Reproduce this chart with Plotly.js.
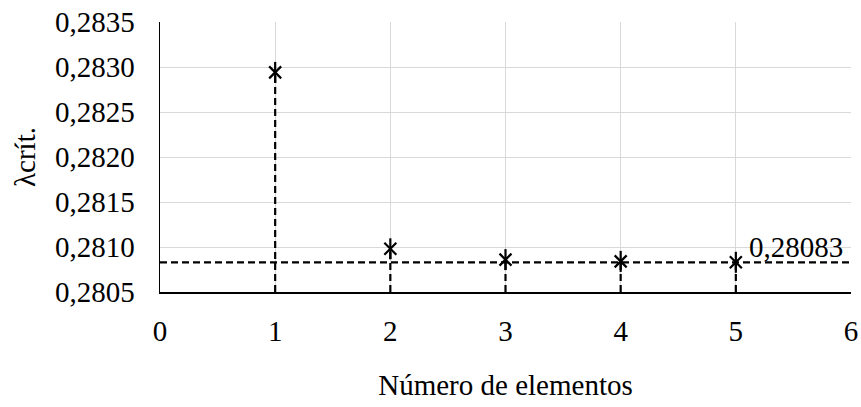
<!DOCTYPE html>
<html>
<head>
<meta charset="utf-8">
<script src="https://cdn.plot.ly/plotly-3.0.1.min.js"></script>
<style>
  html, body { margin: 0; padding: 0; background: #fff; }
  #chart { width: 861px; height: 407px; }
</style>
</head>
<body>
<div id="chart"></div>
<script>
// Critical load factor vs. number of elements
const elements = [1, 2, 3, 4, 5];
const lambdaCrit = [0.28294, 0.28098, 0.28086, 0.28084, 0.28083];
const converged = 0.28083;
const xTicks = [0, 1, 2, 3, 4, 5, 6];
const yTicks = [0.2805, 0.2810, 0.2815, 0.2820, 0.2825, 0.2830, 0.2835];

const yMin = yTicks[0];
const font = 'Liberation Serif, Times New Roman, serif';
const fs = 29;

// vertical drop lines from each point down to the axis
const dropX = [], dropY = [];
elements.forEach((x, i) => {
  dropX.push(x, x, null);
  dropY.push(yMin, lambdaCrit[i], null);
});

const traces = [
  {
    x: dropX, y: dropY, mode: 'lines', cliponaxis: false,
    line: { color: '#000', width: 2.2, dash: '7px,4px' },
    hoverinfo: 'skip', showlegend: false
  },
  {
    x: [xTicks[0], xTicks[xTicks.length - 1]], y: [converged, converged],
    mode: 'lines',
    line: { color: '#000', width: 2.2, dash: '7px,4px' },
    hoverinfo: 'skip', showlegend: false
  },
  // six-armed star marker: an "x" plus a vertical bar
  {
    x: elements, y: lambdaCrit, mode: 'markers',
    marker: { symbol: 'x-thin-open', size: 12, color: '#000', line: { color: '#000', width: 2.2 } },
    showlegend: false
  },
  {
    x: elements, y: lambdaCrit, mode: 'markers',
    marker: { symbol: 'line-ns-open', size: 15, color: '#000', line: { color: '#000', width: 2.2 } },
    showlegend: false
  }
];

const layout = {
  width: 861, height: 407,
  margin: { l: 159.5, r: 10, t: 21.5, b: 115 },
  paper_bgcolor: '#fff', plot_bgcolor: '#fff',
  separators: ',.',
  font: { family: font, size: fs, color: '#000' },
  showlegend: false,
  hovermode: false,
  xaxis: {
    range: [xTicks[0], xTicks[xTicks.length - 1]],
    tickvals: xTicks,
    ticktext: xTicks.map(String),
    showgrid: true, gridcolor: '#d9d9d9', gridwidth: 1,
    zeroline: false,
    showline: true, linecolor: '#000', linewidth: 1.5,
    ticks: '', ticklabelstandoff: 13,
    tickfont: { family: font, size: fs, color: '#000' },
    title: { text: 'Número de elementos', font: { family: font, size: fs, color: '#000' }, standoff: 28 }
  },
  yaxis: {
    range: [yTicks[0], yTicks[yTicks.length - 1]],
    tickvals: yTicks,
    ticktext: yTicks.map(v => v.toFixed(4).replace('.', ',')),
    showgrid: true, gridcolor: '#d9d9d9', gridwidth: 1,
    zeroline: false,
    showline: true, linecolor: '#000', linewidth: 1.5,
    ticks: '', ticklabelstandoff: 18,
    tickfont: { family: font, size: fs, color: '#000' },
    title: { text: 'λcrít.', font: { family: font, size: fs, color: '#000' }, standoff: 11 }
  },
  annotations: [{
    x: elements[elements.length - 1], y: converged, xref: 'x', yref: 'y',
    text: converged.toFixed(5).replace('.', ','),
    showarrow: false, xanchor: 'left', yanchor: 'bottom',
    xshift: 11, yshift: -3,
    font: { family: font, size: fs, color: '#000' }
  }]
};

Plotly.newPlot('chart', traces, layout, { displayModeBar: false, staticPlot: true });
</script>
</body>
</html>
